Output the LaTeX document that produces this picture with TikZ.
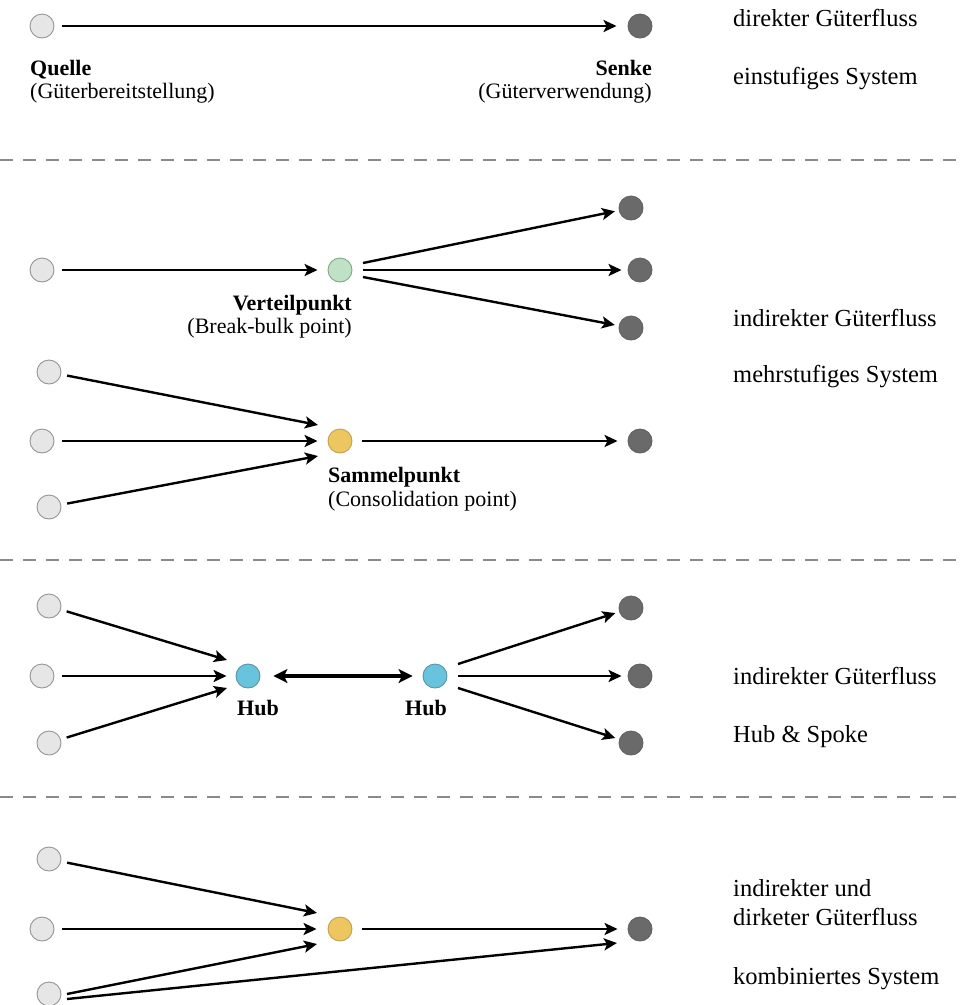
\documentclass[tikz,border=0pt]{standalone}
\usepackage{fontspec}
\setmainfont{Liberation Serif}
\usetikzlibrary{arrows.meta,calc}
\definecolor{srcfill}{HTML}{E6E6E6}
\definecolor{srcline}{HTML}{959595}
\definecolor{sinkfill}{HTML}{6A6A6A}
\definecolor{sinkline}{HTML}{626262}
\definecolor{greenfill}{HTML}{BFE2C6}
\definecolor{greenline}{HTML}{7FA886}
\definecolor{yellowfill}{HTML}{EEC660}
\definecolor{yellowline}{HTML}{BFA055}
\definecolor{bluefill}{HTML}{67C4DC}
\definecolor{blueline}{HTML}{5B93A8}
\definecolor{sepline}{HTML}{8A8A8A}
\begin{document}
\begin{tikzpicture}[x=1pt,y=-1pt,
  dot/.style={circle,minimum size=24pt,inner sep=0pt,line width=0.9pt},
  src/.style={dot,fill=srcfill,draw=srcline},
  sink/.style={dot,fill=sinkfill,draw=sinkline},
  dist/.style={dot,fill=greenfill,draw=greenline},
  cons/.style={dot,fill=yellowfill,draw=yellowline},
  hub/.style={dot,fill=bluefill,draw=blueline},
  flow/.style={line width=2.4pt,-{Stealth[length=13pt,width=12pt,inset=3pt]}},
  bothflow/.style={line width=3.2pt,{Stealth[length=14pt,width=14pt,inset=3.5pt]}-{Stealth[length=14pt,width=14pt,inset=3.5pt]}},
  lbl/.style={font=\fontsize{22}{26}\selectfont,inner sep=0pt},
  lblb/.style={lbl,font=\fontsize{22}{26}\selectfont\bfseries},
  note/.style={font=\fontsize{24.5}{29}\selectfont,inner sep=0pt,anchor=base west},
  sep/.style={draw=sepline,line width=1.3pt,dash pattern=on 13pt off 10pt}]
\useasboundingbox (0,0) rectangle (960,1005);

% separators between the four schemes
\coordinate (l1a) at (0,160);   \coordinate (l1b) at (960,160);
\coordinate (l2a) at (0,560);   \coordinate (l2b) at (960,560);
\coordinate (l3a) at (0,797);   \coordinate (l3b) at (960,797);
\draw[sep] (l1a) -- (l1b);
\draw[sep] (l2a) -- (l2b);
\draw[sep] (l3a) -- (l3b);

% ---- single-stage system
\node[src]  (q) at (42,26) {};
\node[sink] (s) at (640,26) {};
\draw[flow,shorten <=8pt,shorten >=11pt] (q) -- (s);
\node[lblb,anchor=base west] (qt) at (30,75) {Quelle};
\node[lbl,anchor=base west]  (qs) at (30,98) {(Güterbereitstellung)};
\node[lblb,anchor=base east] (st) at (652,75) {Senke};
\node[lbl,anchor=base east]  (ss) at (652,98) {(Güterverwendung)};
\node[note] (n1a) at (733,26) {direkter Güterfluss};
\node[note] (n1b) at (733,84) {einstufiges System};

% ---- break-bulk point
\node[src]  (a1) at (42,270) {};
\node[dist] (v)  at (340,270) {};
\node[sink] (t1) at (631,208) {};
\node[sink] (t2) at (640,270) {};
\node[sink] (t3) at (631,328) {};
\draw[flow,shorten <=8pt,shorten >=10pt] (a1) -- (v);
\draw[flow,shorten >=4pt] ($(v)+(23,-7)$) -- (t1);
\draw[flow,shorten >=6pt] ($(v)+(23,0)$) -- (t2);
\draw[flow,shorten >=4pt] ($(v)+(23,7)$) -- (t3);
\node[lblb,anchor=base east] (vt) at (352,310) {Verteilpunkt};
\node[lbl,anchor=base east]  (vs) at (352,333) {(Break-bulk point)};

% ---- consolidation point
\node[src]  (b1) at (49,372) {};
\node[src]  (b2) at (42,441) {};
\node[src]  (b3) at (49,507) {};
\node[cons] (c)  at (340,441) {};
\node[sink] (t4) at (640,441) {};
\draw[flow,shorten <=6pt] (b1) -- ($(c)+(-22,-16)$);
\draw[flow,shorten <=8pt,shorten >=10pt] (b2) -- (c);
\draw[flow,shorten <=6pt] (b3) -- ($(c)+(-22,15)$);
\draw[flow,shorten <=10pt,shorten >=10pt] (c) -- (t4);
\node[lblb,anchor=base west] (ct) at (328,482) {Sammelpunkt};
\node[lbl,anchor=base west]  (cs) at (328,506) {(Consolidation point)};
\node[note] (n2a) at (733,326) {indirekter Güterfluss};
\node[note] (n2b) at (733,382) {mehrstufiges System};

% ---- hub and spoke
\node[src]  (d1) at (49,606) {};
\node[src]  (d2) at (42,676) {};
\node[src]  (d3) at (49,743) {};
\node[hub]  (h1) at (248,676) {};
\node[hub]  (h2) at (435,676) {};
\node[sink] (u1) at (631,608) {};
\node[sink] (u2) at (640,676) {};
\node[sink] (u3) at (631,743) {};
\draw[flow,shorten <=6pt] (d1) -- ($(h1)+(-21,-16)$);
\draw[flow,shorten <=8pt,shorten >=9pt] (d2) -- (h1);
\draw[flow,shorten <=6pt] (d3) -- ($(h1)+(-21,12)$);
\draw[bothflow,shorten <=13pt,shorten >=10pt] (h1) -- (h2);
\draw[flow,shorten >=4pt] ($(h2)+(23,-12)$) -- (u1);
\draw[flow,shorten >=6pt] ($(h2)+(23,0)$) -- (u2);
\draw[flow,shorten >=4pt] ($(h2)+(23,12)$) -- (u3);
\node[lblb,anchor=base west] (h1t) at (237,715) {Hub};
\node[lblb,anchor=base east] (h2t) at (447,715) {Hub};
\node[note] (n3a) at (733,684) {indirekter Güterfluss};
\node[note] (n3b) at (733,742) {Hub \& Spoke};

% ---- combined system
\node[src]  (e1) at (49,859) {};
\node[src]  (e2) at (42,929) {};
\node[src]  (e3) at (49,994) {};
\node[cons] (k)  at (340,929) {};
\node[sink] (w)  at (640,929) {};
\draw[flow,shorten <=6pt] (e1) -- ($(k)+(-23,-16)$);
\draw[flow,shorten <=8pt,shorten >=11pt] (e2) -- (k);
\draw[flow] ($(e3)+(18,0)$) -- ($(k)+(-23,15)$);
\draw[flow] ($(e3)+(18,5)$) -- ($(w)+(-23,14)$);
\draw[flow,shorten <=10pt,shorten >=10pt] (k) -- (w);
\node[note] (n4a) at (733,896) {indirekter und};
\node[note] (n4b) at (733,925) {dirketer Güterfluss};
\node[note] (n4c) at (733,984) {kombiniertes System};
\end{tikzpicture}
\end{document}
